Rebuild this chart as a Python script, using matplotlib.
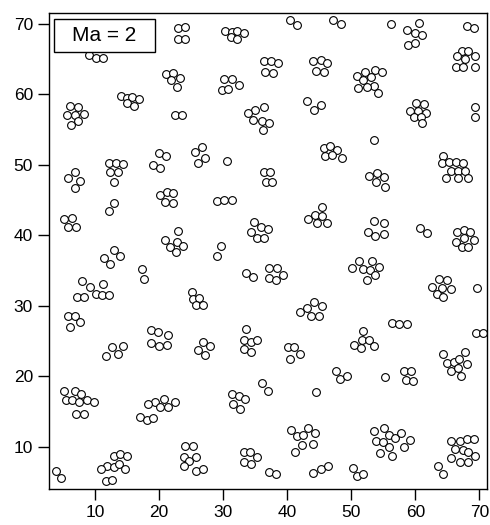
import matplotlib
matplotlib.use('Agg')
import matplotlib.pyplot as plt
from matplotlib.patches import Rectangle

plt.rcParams['font.family'] = ['Liberation Sans', 'DejaVu Sans']

# particle centres (x, y)
x = [
    22.9, 24.1, 23.0, 24.1, 9.0, 10.1, 11.2,
    21.0, 22.1, 23.3, 21.8, 22.8,
    14.1, 15.0, 15.8, 16.9, 15.0, 16.0,
    6.1, 7.4, 5.6, 6.9, 8.3, 7.4, 6.25, 22.5, 23.5,
    19.9, 21.0, 19.1, 20.2, 12.1, 13.2, 14.4, 12.4, 13.6, 13.0,
    6.8, 5.8, 7.65, 6.8, 40.5, 41.5, 47.1, 48.4,
    30.3, 31.4, 32.1, 33.2, 31.2, 32.2,
    36.3, 37.4, 38.6, 36.6, 37.8, 44.1, 45.2, 46.2, 44.5, 45.7,
    30.2, 31.4, 32.4, 29.8, 30.8, 43.1, 44.2, 45.3,
    36.4, 34.9, 33.8, 34.7, 36.0, 37.2, 36.2,
    25.6, 26.7, 27.2, 26.1, 30.6,
    45.7, 46.7, 47.8, 45.9, 47.0, 48.5, 36.3, 37.3, 36.7, 37.7,
    56.25, 60.6, 58.7, 60.0, 61.1, 58.9, 60.0, 68.1, 69.1,
    67.3, 68.3, 66.5, 67.8, 69.4, 66.4, 67.4, 69.4,
    52.2, 53.75, 54.8, 50.9, 51.9, 53.1, 53.5, 52.5, 51.0, 54.2,
    60.1, 61.3, 59.1, 60.5, 61.7, 59.8, 60.9, 61.1, 69.3, 69.3, 53.5,
    64.4, 64.1, 65.3, 66.4, 67.5, 65.5, 66.6, 67.8, 64.8, 66.7, 68.3,
    52.7, 54.0, 55.05, 53.9, 55.3,
    20.2, 21.2, 22.2, 20.9, 22.1, 13.0, 12.1,
    5.2, 6.4, 5.8, 7.0, 22.9, 20.9, 22.8, 21.7, 23.8, 22.7,
    12.9, 11.45, 13.9, 12.4, 17.4, 17.7,
    25.1, 25.3, 26.2, 25.8, 26.9,
    7.9, 9.2, 11.3, 10.1, 11.1, 12.2, 7.1, 8.3,
    5.7, 6.9, 7.65, 6.1, 18.8, 19.8, 21.4, 18.75, 19.9, 21.2,
    29.0, 30.2, 31.4, 45.4, 43.3, 44.4, 45.4, 44.6, 46.2,
    34.8, 35.9, 37.0, 34.4, 35.3, 36.3, 29.6, 29.1, 33.6, 34.6,
    37.2, 38.4, 39.3, 37.1, 38.3, 44.2, 45.4, 43.1, 42.0, 43.7, 44.9, 33.6,
    53.6, 55.05, 52.6, 53.75, 55.05, 60.8, 61.8,
    66.5, 67.55, 68.6, 67.55, 66.4, 69.1, 67.3, 68.3,
    51.25, 53.2, 50.1, 51.9, 53.0, 54.3, 53.75, 52.45,
    63.75, 64.95, 62.6, 64.2, 65.5, 63.4, 64.4, 69.6,
    56.4, 57.5, 58.7, 69.5, 70.6,
    12.6, 14.4, 13.5, 11.7,
    5.2, 6.8, 7.8, 5.4, 6.45, 7.5, 8.7, 9.8, 7.0, 8.2,
    20.7, 19.3, 18.2, 22.4, 20.2, 21.4, 17.0, 18.1, 19.1,
    24.1, 25.3, 23.9, 25.7, 24.7, 23.9, 25.8, 26.8,
    12.9, 13.9, 14.95, 11.8, 12.9, 13.75, 10.9, 14.6, 11.7, 12.6, 3.85, 4.7,
    26.9, 28.0, 26.1, 27.2, 33.3, 34.3, 35.3, 33.2, 34.3,
    40.05, 41.1, 42.0, 40.4, 47.6, 48.2, 49.3, 36.05, 37.0, 44.5,
    31.4, 32.4, 33.4, 31.6, 32.65,
    40.6, 41.5, 42.45, 43.2, 44.4, 42.3, 44.0, 41.25,
    33.2, 34.2, 35.3, 33.2, 34.3, 37.2, 38.3, 44.1, 45.3, 46.3,
    51.9, 50.5, 51.7, 52.7, 51.6, 53.5, 55.2, 58.3, 59.4, 58.5, 59.7,
    64.4, 67.8, 64.95, 66.0, 66.9, 68.1, 65.5, 66.7, 67.2,
    53.6, 55.05, 55.9, 56.9, 57.8, 59.2, 53.9, 54.95, 55.9, 58.2, 54.5, 56.4,
    65.5, 67.0, 68.05, 69.1, 66.25, 67.4, 68.3, 69.4, 65.5, 67.0, 68.2,
    63.6, 64.4, 50.2, 50.9, 51.9,
]
y = [
    69.5, 69.6, 67.9, 67.9, 65.6, 65.2, 65.2,
    62.9, 63.1, 62.4, 62.0, 61.1,
    59.8, 59.5, 59.6, 59.4, 58.8, 58.4,
    58.3, 58.2, 57.1, 57.1, 57.2, 56.3, 55.7, 57.1, 57.1,
    51.7, 51.2, 50.0, 49.5, 50.2, 50.2, 50.1, 49.0, 49.0, 47.6,
    49.05, 48.1, 47.7, 46.7, 70.6, 69.9, 70.5, 70.0,
    69.0, 68.9, 69.0, 68.7, 68.2, 67.8,
    64.8, 64.8, 64.4, 63.2, 63.1, 64.7, 64.9, 64.5, 63.3, 63.2,
    62.2, 62.2, 61.3, 60.6, 60.8, 59.0, 57.8, 58.5,
    58.2, 57.8, 57.3, 56.4, 56.2, 55.9, 55.0,
    51.9, 52.5, 51.0, 50.2, 50.6,
    52.4, 52.7, 52.1, 51.2, 51.4, 51.0, 49.0, 49.0, 47.6, 47.6,
    70.0, 70.1, 69.2, 68.7, 68.4, 67.0, 67.3, 69.7, 69.5,
    66.1, 66.2, 65.4, 65.1, 65.5, 63.9, 63.9, 63.9,
    63.2, 63.5, 63.2, 62.6, 62.0, 62.5, 61.2, 61.0, 60.9, 60.2,
    58.75, 58.65, 57.6, 57.6, 57.3, 56.8, 56.8, 56.0, 58.2, 56.8, 53.5,
    51.2, 50.2, 50.4, 50.4, 50.3, 49.1, 49.2, 49.1, 48.1, 48.2, 48.2,
    48.4, 48.8, 48.25, 47.6, 46.9,
    45.7, 46.2, 46.0, 44.7, 44.65, 44.65, 43.4,
    42.3, 42.4, 41.25, 41.25, 40.6, 39.4, 39.1, 38.3, 38.55, 37.6,
    37.9, 36.8, 37.1, 36.0, 35.2, 33.8,
    32.0, 31.0, 31.1, 30.1, 30.1,
    33.45, 32.7, 33.1, 31.7, 31.5, 31.5, 31.2, 31.2,
    28.6, 28.6, 27.7, 27.05, 26.5, 26.3, 25.9, 24.7, 24.3, 24.4,
    44.9, 45.0, 45.0, 44.0, 42.3, 42.9, 42.7, 41.7, 41.7,
    41.9, 41.2, 40.9, 40.5, 39.6, 39.6, 38.5, 37.1, 34.6, 34.1,
    35.35, 35.35, 34.4, 33.9, 33.7, 30.5, 30.0, 29.7, 29.05, 28.5, 28.5, 26.7,
    42.0, 41.7, 40.5, 39.9, 40.2, 41.0, 40.3,
    40.5, 40.8, 40.5, 39.6, 39.1, 39.4, 38.3, 38.3,
    36.4, 36.4, 35.35, 35.2, 35.1, 35.5, 34.4, 33.7,
    33.8, 33.7, 32.65, 32.5, 32.4, 31.7, 31.2, 32.5,
    27.6, 27.45, 27.45, 26.1, 26.1,
    24.1, 24.3, 23.2, 22.9,
    17.9, 17.85, 17.5, 16.6, 16.6, 16.4, 16.6, 16.3, 14.7, 14.6,
    16.8, 16.3, 16.0, 16.3, 15.6, 15.6, 14.2, 13.8, 14.1,
    10.1, 10.1, 8.5, 8.6, 8.0, 7.2, 6.5, 6.8,
    8.7, 8.9, 8.7, 7.2, 7.1, 7.6, 6.8, 6.8, 5.1, 5.3, 6.5, 5.5,
    24.9, 24.3, 23.75, 23.05, 25.2, 24.9, 25.2, 23.8, 23.4,
    24.1, 24.1, 23.15, 22.4, 20.7, 19.6, 20.0, 19.0, 17.9, 17.7,
    17.5, 17.2, 16.75, 16.1, 15.35,
    12.4, 11.5, 11.7, 12.6, 11.95, 10.3, 10.4, 9.3,
    9.3, 9.3, 8.5, 7.8, 7.6, 6.4, 6.1, 6.2, 6.8, 7.2,
    26.45, 24.5, 25.1, 25.2, 24.0, 24.3, 19.9, 20.7, 20.7, 19.4, 19.3,
    23.15, 23.5, 21.9, 22.0, 22.4, 21.7, 20.7, 21.15, 20.0,
    12.3, 12.7, 11.6, 11.25, 11.95, 11.0, 10.75, 10.6, 9.95, 10.0, 9.1, 8.7,
    10.75, 10.85, 11.1, 11.1, 9.7, 9.5, 9.3, 8.7, 8.4, 7.8, 7.8,
    7.2, 6.1, 7.0, 5.8, 6.1,
]
ticks = [10, 20, 30, 40, 50, 60, 70]
label = 'Ma = 2'

fig = plt.figure(figsize=(4.9, 5.25), dpi=100)
ax = fig.add_axes([0.1, 0.0686, 0.8939, 0.9072])
ax.plot(x, y, 'o', ms=5.6, mfc='white', mec='black', mew=0.8, ls='none')
ax.set_xlim(2.8, 71.2)
ax.set_ylim(4.0, 71.6)
ax.set_xticks(ticks)
ax.set_yticks(ticks)
ax.tick_params(direction='out', length=8, width=1, labelsize=12.5, colors='black')
for s in ax.spines.values():
    s.set_linewidth(1)

ax.add_patch(Rectangle((0.0114, 0.9175), 0.2306, 0.0693, transform=ax.transAxes,
                       fc='white', ec='black', lw=1, zorder=5))
ax.text(0.1267, 0.952, label, transform=ax.transAxes, ha='center', va='center',
        fontsize=15, zorder=6)

fig.savefig('out.png', dpi=100)
